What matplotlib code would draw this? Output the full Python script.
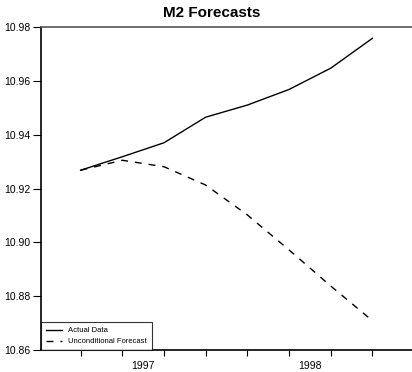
import matplotlib
matplotlib.use("Agg")
import matplotlib.pyplot as plt

plt.rcParams['font.family'] = ['Liberation Sans', 'DejaVu Sans']

# quarterly observations 1997Q1 - 1998Q4
quarters = list(range(8))
actual = [10.9268, 10.9318, 10.9370, 10.9465, 10.9510, 10.9568, 10.9647, 10.9758]
forecast = [10.9268, 10.9305, 10.9281, 10.9213, 10.9102, 10.8972, 10.8838, 10.8709]
year_labels = ['1997', '1998']
year_centers = [1.5, 5.5]
y_ticks = [10.86, 10.88, 10.90, 10.92, 10.94, 10.96, 10.98]

fig = plt.figure(figsize=(4.12, 3.72), dpi=100)
ax = fig.add_axes([0.0995, 0.059, 0.9005, 0.8684])

ax.plot(quarters, actual, color='black', lw=1.0, label='Actual Data')
ax.plot(quarters, forecast, color='black', lw=1.0, dashes=(5, 5), label='Unconditional Forecast')

ax.set_xlim(-0.95, 7.95)
ax.set_ylim(10.86, 10.98)
ax.set_yticks(y_ticks)
ax.set_yticklabels(['%.2f' % v for v in y_ticks], fontsize=7.5)

ax.set_xticks(quarters)
ax.set_xticklabels([])
ax.set_xticks(year_centers, minor=True)
ax.set_xticklabels(year_labels, minor=True, fontsize=7.5)
ax.tick_params(axis='x', which='minor', length=0, pad=8)
ax.tick_params(axis='x', which='major', length=4, width=0.8, direction='out')
ax.tick_params(axis='y', which='major', length=6, width=0.8, direction='out', pad=1.5)

ax.spines['right'].set_visible(False)
for s in ['left', 'bottom', 'top']:
    ax.spines[s].set_linewidth(1.2)
ax.spines['top'].set_color('#555555')

fig.text(0.515, 0.965, 'M2 Forecasts', fontsize=11, fontweight='bold',
         ha='center', va='center')

leg = ax.legend(loc='lower left', fontsize=5.5, frameon=True, fancybox=False,
                edgecolor='black', borderaxespad=0, handlelength=2.2,
                borderpad=0.6, labelspacing=0.5)
leg.get_frame().set_linewidth(0.8)

fig.savefig('out.png', dpi=100)
